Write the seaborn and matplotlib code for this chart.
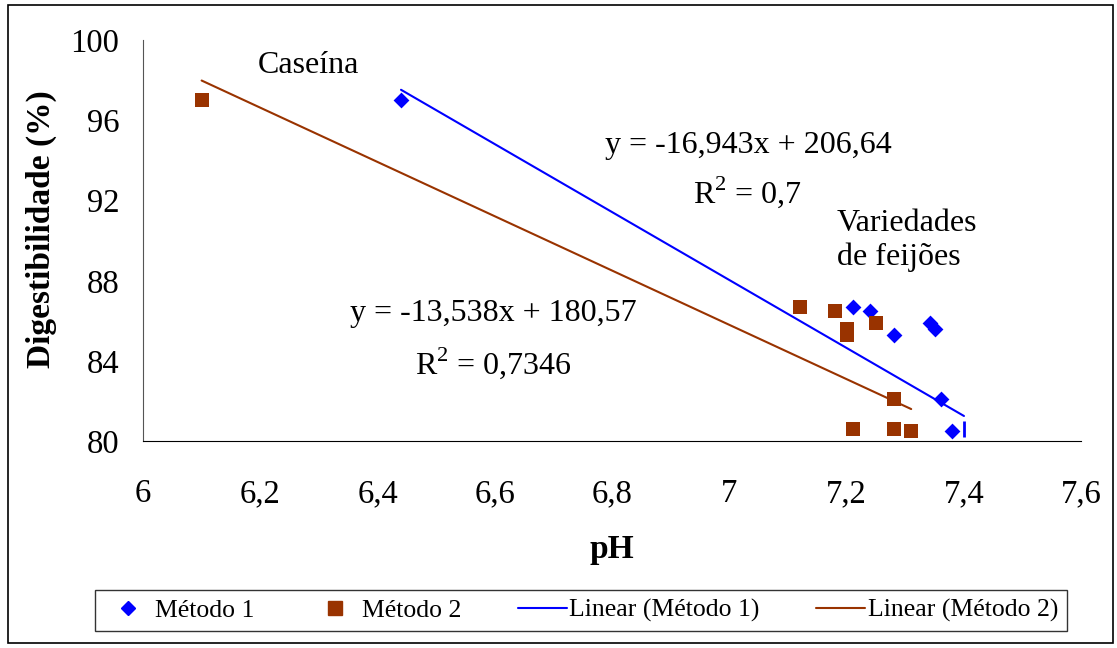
import matplotlib
matplotlib.use("Agg")
import matplotlib.pyplot as plt
import seaborn as sns
import pandas as pd
import numpy as np
from matplotlib.patches import Rectangle
from matplotlib.lines import Line2D

# Data
ph_m1 = [6.44, 7.21, 7.24, 7.28, 7.342, 7.35, 7.36, 7.38]
dig_m1 = [97.0, 86.7, 86.5, 85.3, 85.9, 85.6, 82.1, 80.5]
ph_m1_edge = [7.40]
dig_m1_edge = [80.6]

ph_m2 = [6.10, 7.12, 7.18, 7.20, 7.20, 7.25, 7.28, 7.21, 7.28, 7.31]
dig_m2 = [97.0, 86.7, 86.5, 85.6, 85.3, 85.9, 82.1, 80.6, 80.6, 80.5]

# Trend line coefficients as printed on the chart
slope_m1, icpt_m1 = -16.943, 206.64
slope_m2, icpt_m2 = -13.538, 180.57

BLUE = "#0000FF"
BROWN = "#993300"

sns.set_style("white")
plt.rcParams['font.family'] = ['Liberation Serif', 'DejaVu Serif']
plt.rcParams['mathtext.fontset'] = 'custom'
plt.rcParams['mathtext.rm'] = 'Liberation Serif'
plt.rcParams['text.color'] = 'black'
plt.rcParams['axes.labelcolor'] = 'black'
plt.rcParams['xtick.color'] = 'black'
plt.rcParams['ytick.color'] = 'black'

df1 = pd.DataFrame({'pH': ph_m1, 'Dig': dig_m1})
df2 = pd.DataFrame({'pH': ph_m2, 'Dig': dig_m2})

fig = plt.figure(figsize=(11.17, 6.48), dpi=100)
ax = fig.add_axes([0.128, 0.319, 0.840, 0.619])

# trend lines
x1 = np.array([min(ph_m1), max(ph_m1 + ph_m1_edge)])
x2 = np.array([min(ph_m2), max(ph_m2)])
ax.plot(x1, slope_m1 * x1 + icpt_m1, color=BLUE, lw=1.5, zorder=2)
ax.plot(x2, slope_m2 * x2 + icpt_m2, color=BROWN, lw=1.5, zorder=2)

sns.scatterplot(data=df1, x='pH', y='Dig', marker='D', color=BLUE, s=65,
                edgecolor=BLUE, linewidth=0, ax=ax, zorder=3)
ax.scatter(ph_m1_edge, dig_m1_edge, marker='|', color=BLUE, s=120, linewidths=2, zorder=3)
sns.scatterplot(data=df2, x='pH', y='Dig', marker='s', color=BROWN, s=95,
                edgecolor=BROWN, linewidth=0, ax=ax, zorder=3)

ax.set_xlim(6, 7.6)
ax.set_ylim(80, 100)
ax.set_xticks(np.arange(6, 7.61, 0.2))
ax.set_yticks(np.arange(80, 100.1, 4))
ax.set_xticklabels(['6', '6,2', '6,4', '6,6', '6,8', '7', '7,2', '7,4', '7,6'])
ax.set_yticklabels(['80', '84', '88', '92', '96', '100'])
ax.tick_params(axis='both', direction='out', length=7, width=1, labelsize=23.5,
               color='#333333')
ax.tick_params(axis='y', pad=10)
ax.tick_params(axis='x', pad=20)
for side in ['top', 'right']:
    ax.spines[side].set_visible(False)
ax.spines['left'].set_color('#555555')
ax.spines['bottom'].set_color('#000000')

ax.set_xlabel('pH', fontsize=24, fontweight='bold', labelpad=18)
ax.set_ylabel('Digestibilidade (%)', fontsize=24, fontweight='bold')
ax.yaxis.set_label_coords(-0.092, 0.53)

# annotations
fs = 23
ax.text(6.282, 98.75, 'Caseína', fontsize=fs, ha='center', va='center')
ax.text(7.032, 94.76, 'y = -16,943x + 206,64', fontsize=fs, ha='center', va='center')
ax.text(7.03, 92.42, r'R$^2$ = 0,7', fontsize=fs, ha='center', va='center')
ax.text(7.183, 90.0, 'Variedades\nde feijões', fontsize=fs, ha='left', va='center',
        linespacing=1.2)
ax.text(6.597, 86.38, 'y = -13,538x + 180,57', fontsize=fs, ha='center', va='center')
ax.text(6.597, 83.89, r'R$^2$ = 0,7346', fontsize=fs, ha='center', va='center')

# legend
handles = [
    Line2D([], [], marker='D', color=BLUE, ls='none', markersize=7),
    Line2D([], [], marker='s', color=BROWN, ls='none', markersize=10),
    Line2D([], [], color=BLUE, lw=1.5),
    Line2D([], [], color=BROWN, lw=1.5),
]
labels = ['Método 1', 'Método 2', 'Linear (Método 1)', 'Linear (Método 2)']
leg = fig.legend(handles, labels, loc='center', bbox_to_anchor=(0.52, 0.058), ncol=4,
                 fontsize=18.5, frameon=True, fancybox=False, edgecolor='black',
                 handlelength=1.9, columnspacing=2.2, handletextpad=0.1,
                 borderpad=0.35, borderaxespad=0)
leg.get_frame().set_linewidth(1.0)

# outer chart border
fig.patches.append(Rectangle((0.007, 0.008), 0.989, 0.984, transform=fig.transFigure,
                             fill=False, edgecolor='black', linewidth=1.2))

fig.savefig('out.png', dpi=100)
